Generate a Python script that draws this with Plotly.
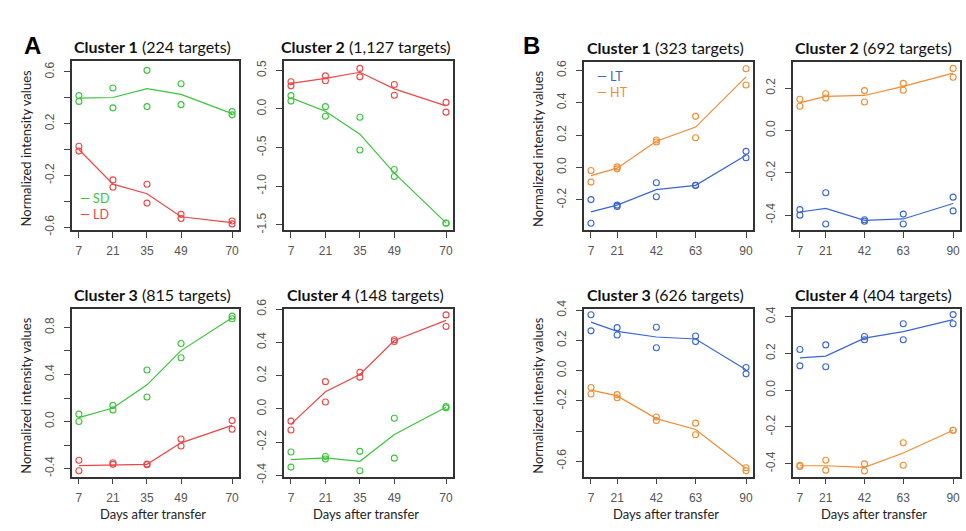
import plotly.graph_objects as go

W, H = 966, 531

# ---------------- DATA ----------------
days_A = [7, 21, 35, 49, 70]
days_B = [7, 21, 42, 63, 90]

# Panel A (SD green, LD red): replicate points (two per day) and fitted line
A1_SD_pts = [[0.417, 0.372], [0.476, 0.322], [0.612, 0.332], [0.508, 0.347], [0.293, 0.268]]
A1_SD_line = [0.397, 0.402, 0.471, 0.426, 0.278]
A1_LD_pts = [[0.025, -0.012], [-0.235, -0.292], [-0.268, -0.414], [-0.501, -0.533], [-0.553, -0.575]]
A1_LD_line = [0.0, -0.268, -0.342, -0.52, -0.565]

A2_SD_pts = [[0.173, 0.102], [0.030, -0.095], [-0.108, -0.531], [-0.783, -0.875], [-1.475, -1.48]]
A2_SD_line = [0.144, -0.03, -0.326, -0.83, -1.475]
A2_LD_pts = [[0.353, 0.299], [0.429, 0.366], [0.525, 0.416], [0.316, 0.177], [0.085, -0.041]]
A2_LD_line = [0.332, 0.395, 0.475, 0.26, 0.04]

A3_SD_pts = [[0.063, 0.0], [0.137, 0.099], [0.438, 0.208], [0.663, 0.542], [0.896, 0.874]]
A3_SD_line = [0.033, 0.115, 0.312, 0.603, 0.882]
A3_LD_pts = [[-0.329, -0.419], [-0.351, -0.364], [-0.362, -0.367], [-0.148, -0.208], [0.008, -0.066]]
A3_LD_line = [-0.375, -0.367, -0.364, -0.181, -0.033]

A4_SD_pts = [[-0.26, -0.351], [-0.287, -0.302], [-0.256, -0.373], [-0.057, -0.297], [0.014, 0.006]]
A4_SD_line = [-0.306, -0.295, -0.316, -0.154, 0.01]
A4_LD_pts = [[-0.074, -0.127], [0.164, 0.041], [0.220, 0.191], [0.416, 0.406], [0.566, 0.496]]
A4_LD_line = [-0.092, 0.103, 0.207, 0.412, 0.533]

# Panel B (LT blue, HT orange)
B1_LT_pts = [[-0.198, -0.344], [-0.232, -0.24], [-0.094, -0.18], [-0.11, -0.11], [0.1, 0.06]]
B1_LT_line = [-0.274, -0.232, -0.136, -0.11, 0.076]
B1_HT_pts = [[-0.018, -0.09], [0.004, -0.008], [0.17, 0.158], [0.316, 0.184], [0.61, 0.51]]
B1_HT_line = [-0.05, -0.004, 0.162, 0.25, 0.56]

B2_LT_pts = [[-0.374, -0.4], [-0.294, -0.442], [-0.422, -0.429], [-0.395, -0.442], [-0.315, -0.38]]
B2_LT_line = [-0.385, -0.368, -0.425, -0.418, -0.345]
B2_HT_pts = [[0.148, 0.115], [0.174, 0.154], [0.189, 0.135], [0.223, 0.191], [0.294, 0.252]]
B2_HT_line = [0.131, 0.162, 0.166, 0.209, 0.272]

B3_LT_pts = [[0.371, 0.264], [0.285, 0.236], [0.288, 0.152], [0.23, 0.193], [0.021, -0.021]]
B3_LT_line = [0.322, 0.26, 0.223, 0.21, 0.006]
B3_HT_pts = [[-0.112, -0.155], [-0.159, -0.18], [-0.307, -0.33], [-0.348, -0.425], [-0.644, -0.663]]
B3_HT_line = [-0.129, -0.167, -0.318, -0.39, -0.648]

B4_LT_pts = [[0.222, 0.133], [0.247, 0.128], [0.293, 0.275], [0.362, 0.275], [0.412, 0.362]]
B4_LT_line = [0.176, 0.186, 0.284, 0.319, 0.385]
B4_HT_pts = [[-0.408, -0.415], [-0.381, -0.435], [-0.401, -0.44], [-0.286, -0.408], [-0.218, -0.218]]
B4_HT_line = [-0.411, -0.411, -0.42, -0.342, -0.218]

titles = [("Cluster 1", "(224 targets)"), ("Cluster 2", "(1,127 targets)"),
          ("Cluster 3", "(815 targets)"), ("Cluster 4", "(148 targets)"),
          ("Cluster 1", "(323 targets)"), ("Cluster 2", "(692 targets)"),
          ("Cluster 3", "(626 targets)"), ("Cluster 4", "(404 targets)")]

ytick_vals = [
    [0.6, 0.4, 0.2, 0.0, -0.2, -0.4, -0.6],
    [0.5, 0.0, -0.5, -1.0, -1.5],
    [0.8, 0.6, 0.4, 0.2, 0.0, -0.2, -0.4],
    [0.6, 0.4, 0.2, 0.0, -0.2, -0.4],
    [0.6, 0.4, 0.2, 0.0, -0.2],
    [0.2, 0.0, -0.2, -0.4],
    [0.4, 0.2, 0.0, -0.2, -0.4, -0.6],
    [0.4, 0.2, 0.0, -0.2, -0.4],
]
ytick_text = [
    ["0.6", "", "0.2", "", "-0.2", "", "-0.6"],
    ["0.5", "0.0", "-0.5", "-1.0", "-1.5"],
    ["0.8", "", "0.4", "", "0.0", "", "-0.4"],
    ["0.6", "0.4", "0.2", "0.0", "-0.2", "-0.4"],
    ["0.6", "0.4", "0.2", "0.0", "-0.2"],
    ["0.2", "0.0", "-0.2", "-0.4"],
    ["0.4", "0.2", "0.0", "-0.2", "", "-0.6"],
    ["0.4", "0.2", "0.0", "-0.2", "-0.4"],
]
y_ranges = [(-0.62, 0.682), (-1.563, 0.617), (-0.468, 0.956), (-0.408, 0.601),
            (-0.384, 0.65), (-0.469, 0.323), (-0.702, 0.408), (-0.47, 0.442)]

legend_A = [("SD", "#3cc43c"), ("LD", "#ec4646")]
legend_B = [("LT", "#3a66d4"), ("HT", "#f28c34")]

GREEN, RED = legend_A[0][1], legend_A[1][1]
BLUE, ORANGE = legend_B[0][1], legend_B[1][1]

panels = [
    (days_A, [(A1_SD_pts, A1_SD_line, GREEN), (A1_LD_pts, A1_LD_line, RED)]),
    (days_A, [(A2_SD_pts, A2_SD_line, GREEN), (A2_LD_pts, A2_LD_line, RED)]),
    (days_A, [(A3_SD_pts, A3_SD_line, GREEN), (A3_LD_pts, A3_LD_line, RED)]),
    (days_A, [(A4_SD_pts, A4_SD_line, GREEN), (A4_LD_pts, A4_LD_line, RED)]),
    (days_B, [(B1_LT_pts, B1_LT_line, BLUE), (B1_HT_pts, B1_HT_line, ORANGE)]),
    (days_B, [(B2_LT_pts, B2_LT_line, BLUE), (B2_HT_pts, B2_HT_line, ORANGE)]),
    (days_B, [(B3_LT_pts, B3_LT_line, BLUE), (B3_HT_pts, B3_HT_line, ORANGE)]),
    (days_B, [(B4_LT_pts, B4_LT_line, BLUE), (B4_HT_pts, B4_HT_line, ORANGE)]),
]

# ---------------- LAYOUT (pixel boxes) ----------------
boxes = [(72, 239, 53, 227), (284, 453, 53, 227), (72, 239, 309, 482), (284, 453, 309, 482),
         (584, 753, 54, 227), (793, 960, 54, 227), (584, 753, 309, 482), (793, 960, 309, 482)]

def px(x):
    return x / W

def py(y):
    return 1 - y / H

fig = go.Figure()
layout = {}
annotations = []
TITLE_FONT = "Lato, 'Open Sans', sans-serif"
TICK_FONT = dict(family="Liberation Sans, Arial, sans-serif", size=12, color="#555555")

for i, ((days, series), (x0, x1, y0, y1)) in enumerate(zip(panels, boxes)):
    k = "" if i == 0 else str(i + 1)
    xa, ya = "x" + k, "y" + k
    for pts, line, col in series:
        xs, ys = [], []
        for d, pp in zip(days, pts):
            for v in pp:
                xs.append(d)
                ys.append(v)
        fig.add_trace(go.Scatter(x=days, y=line, mode="lines", line=dict(color=col, width=1.2),
                                 xaxis=xa, yaxis=ya, showlegend=False, hoverinfo="skip"))
        fig.add_trace(go.Scatter(x=xs, y=ys, mode="markers",
                                 marker=dict(symbol="circle-open", size=6, color=col, line=dict(width=1.1)),
                                 xaxis=xa, yaxis=ya, showlegend=False))
    span = days[-1] - days[0]
    layout["xaxis" + k] = dict(
        domain=[px(x0), px(x1)], anchor=ya, range=[days[0] - 0.045 * span, days[-1] + 0.045 * span],
        tickvals=days, ticktext=[str(d) for d in days], ticks="outside", ticklen=6, tickwidth=1.2,
        tickcolor="#444", showline=True, linecolor="#333", linewidth=1.6, mirror=True,
        showgrid=False, zeroline=False, tickfont=TICK_FONT, ticklabelstandoff=3)
    layout["yaxis" + k] = dict(
        domain=[py(y1), py(y0)], anchor=xa, range=list(y_ranges[i]),
        tickvals=ytick_vals[i], ticktext=ytick_text[i], ticks="outside", ticklen=6, tickwidth=1.2,
        tickcolor="#444", tickangle=-90, showline=True, linecolor="#333", linewidth=1.6, mirror=True,
        showgrid=False, zeroline=False, tickfont=TICK_FONT, ticklabelstandoff=5)
    bold, rest = titles[i]
    annotations.append(dict(x=px((x0 + x1) / 2 - 3), y=py(y0 - 15), xref="paper", yref="paper",
                            text="<b>%s</b> %s" % (bold, rest), showarrow=False,
                            font=dict(family=TITLE_FONT, size=16, color="#111"),
                            xanchor="center", yanchor="middle"))
    if i in (0, 2, 4, 6):
        annotations.append(dict(x=px(x0 - 46), y=py((y0 + y1) / 2 + 3), xref="paper", yref="paper",
                                text="Normalized intensity values", textangle=-90, showarrow=False,
                                font=dict(family=TITLE_FONT, size=13, color="#222"),
                                xanchor="center", yanchor="middle"))
    if i in (2, 3, 6, 7):
        annotations.append(dict(x=px((x0 + x1) / 2 - 3), y=py(521), xref="paper", yref="paper",
                                text="Days after transfer", showarrow=False,
                                font=dict(family=TITLE_FONT, size=13, color="#222"),
                                xanchor="center", yanchor="middle", borderpad=0))

# panel letters
annotations.append(dict(x=px(22), y=py(21), xref="paper", yref="paper", text="<b>A</b>", showarrow=False,
                        font=dict(family="Liberation Sans, Arial", size=24, color="#000")))
annotations.append(dict(x=px(531), y=py(21), xref="paper", yref="paper", text="<b>B</b>", showarrow=False,
                        font=dict(family="Liberation Sans, Arial", size=24, color="#000")))

# legends (one text block each, coloured lines)
def legend_text(items):
    return "<br>".join("<span style='color:%s'>\u2014 %s</span>" % (c, n) for n, c in items)

annotations.append(dict(x=px(78), y=py(203.5), xref="paper", yref="paper", text=legend_text(legend_A),
                        showarrow=False, xanchor="left", yanchor="middle", align="left",
                        font=dict(family=TITLE_FONT, size=12.5, color="#333")))
annotations.append(dict(x=px(595), y=py(76.5), xref="paper", yref="paper", text=legend_text(legend_B),
                        showarrow=False, xanchor="left", yanchor="middle", align="left",
                        font=dict(family=TITLE_FONT, size=12.5, color="#333")))

fig.update_layout(width=W, height=H, margin=dict(l=0, r=0, t=0, b=0),
                  paper_bgcolor="white", plot_bgcolor="white", annotations=annotations, **layout)

fig.write_html("out.html")
